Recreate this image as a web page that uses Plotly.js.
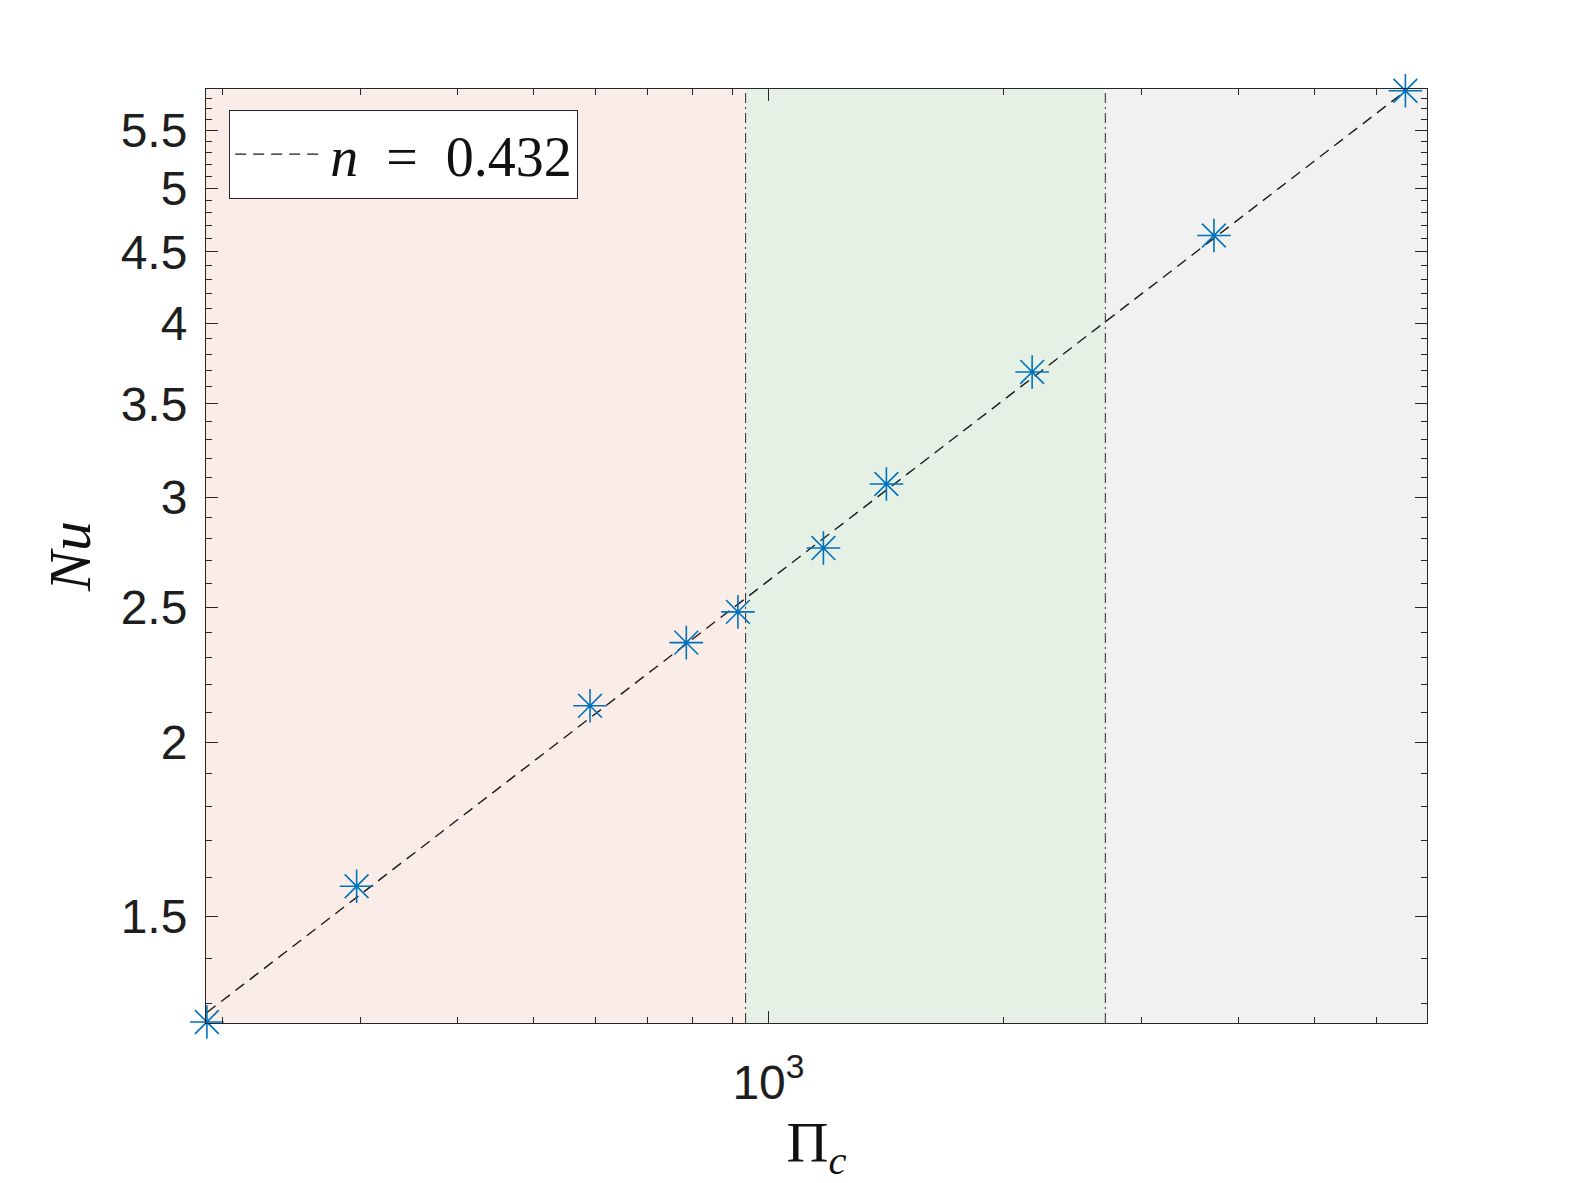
<!DOCTYPE html>
<html>
<head>
<meta charset="utf-8">
<script src="https://cdn.plot.ly/plotly-3.0.1.min.js"></script>
<style>
  html, body { margin: 0; padding: 0; background: #ffffff; }
  #chart { width: 1578px; height: 1183px; }
</style>
</head>
<body>
<div id="chart"></div>
<script>
// Nu vs Pi_c, log-log, with three shaded regimes

const piC = [191, 297, 591, 785, 914, 1176, 1416, 2176, 3719, 6540];
const nu = [1.260, 1.577, 2.125, 2.359, 2.482, 2.758, 3.066, 3.690, 4.623, 5.873];

// fitted power law, end points
const fitX = [191, 6540];
const fitY = [1.28, 5.87];
const fitLabel = '<i>n</i>\u2002=\u20020.432';

// axis limits and regime edges (data units)
const xLimits = [190.5, 6970];
const yLimits = [1.258, 5.89];
const regimeEdges = [935, 2700];
const regimeColors = ['#faede8', '#e5f1e4', '#f1f1f1'];

const yMajor = [1.5, 2, 2.5, 3, 3.5, 4, 4.5, 5, 5.5];
const yMajorText = ['1.5', '2', '2.5', '3', '3.5', '4', '4.5', '5', '5.5'];
const yMinor = [1.3, 1.4, 1.6, 1.7, 1.8, 1.9, 2.1, 2.2, 2.3, 2.4, 2.6, 2.7, 2.8, 2.9,
                3.1, 3.2, 3.3, 3.4, 3.6, 3.7, 3.8, 3.9, 4.1, 4.2, 4.3, 4.4, 4.6, 4.7,
                4.8, 4.9, 5.1, 5.2, 5.3, 5.4, 5.6, 5.7, 5.8];
const xMajor = [1000];
const xMajorText = ['10<sup>3</sup>'];
const xMinor = [200, 300, 400, 500, 600, 700, 800, 900, 2000, 3000, 4000, 5000, 6000];

const axisColor = '#262626';
const tickFont = { family: 'Liberation Sans, Arial, sans-serif', size: 48, color: '#1e1e1e' };
const mathFont = 'Liberation Serif, Times New Roman, serif';

const fitTrace = {
    x: fitX,
    y: fitY,
    type: 'scatter',
    mode: 'lines',
    name: fitLabel,
    line: { color: '#1a1a1a', width: 1.4, dash: '11px,7px' },
    showlegend: true
};

const pointTrace = {
    x: piC,
    y: nu,
    type: 'scatter',
    mode: 'markers',
    name: 'data',
    marker: {
        symbol: 'asterisk-open',
        size: 28,
        color: '#0072bd',
        line: { color: '#0072bd', width: 1.6 }
    },
    cliponaxis: false,
    showlegend: false
};

// shaded regimes + dash-dot separators
const bounds = [xLimits[0]].concat(regimeEdges).concat([xLimits[1]]);
const shapes = [];
for (let i = 0; i < regimeColors.length; i++) {
    shapes.push({
        type: 'rect', xref: 'x', yref: 'paper',
        x0: bounds[i], x1: bounds[i + 1], y0: 0, y1: 1,
        fillcolor: regimeColors[i], line: { width: 0 }, layer: 'below'
    });
}
regimeEdges.forEach(e => {
    shapes.push({
        type: 'line', xref: 'x', yref: 'paper',
        x0: e, x1: e, y0: 0, y1: 1,
        line: { color: '#2a2a2a', width: 1, dash: '10px,4px,2px,4px' },
        layer: 'below'
    });
});

const commonAxis = {
    type: 'log',
    showgrid: false,
    zeroline: false,
    showline: true,
    linecolor: axisColor,
    linewidth: 1,
    mirror: 'ticks',
    ticks: 'inside',
    ticklen: 12,
    tickwidth: 1,
    tickcolor: axisColor,
    tickfont: tickFont,
    tickmode: 'array'
};

const layout = {
    width: 1578,
    height: 1183,
    margin: { l: 206, r: 151, t: 89, b: 160 },
    paper_bgcolor: '#ffffff',
    plot_bgcolor: '#ffffff',
    showlegend: true,
    legend: {
        x: 0.0188,
        y: 0.9775,
        xanchor: 'left',
        yanchor: 'top',
        bgcolor: '#ffffff',
        bordercolor: axisColor,
        borderwidth: 1.2,
        itemwidth: 90,
        font: { family: mathFont, size: 56, color: '#111111' }
    },
    xaxis: Object.assign({}, commonAxis, {
        range: [Math.log10(xLimits[0]), Math.log10(xLimits[1])],
        tickvals: xMajor,
        ticktext: xMajorText,
        ticklabelstandoff: 17,
        minor: { tickmode: 'array', tickvals: xMinor, ticks: 'inside', ticklen: 6, tickwidth: 1, tickcolor: axisColor, showgrid: false },
        title: {
            text: 'Π<sub><i>c</i></sub>',
            font: { family: mathFont, size: 58, color: '#111111' },
            standoff: 14
        }
    }),
    yaxis: Object.assign({}, commonAxis, {
        range: [Math.log10(yLimits[0]), Math.log10(yLimits[1])],
        tickvals: yMajor,
        ticktext: yMajorText,
        ticklabelstandoff: 8,
        minor: { tickmode: 'array', tickvals: yMinor, ticks: 'inside', ticklen: 6, tickwidth: 1, tickcolor: axisColor, showgrid: false },
        title: {
            text: '<i>Nu</i>',
            font: { family: mathFont, size: 60, color: '#111111' },
            standoff: 10
        }
    }),
    shapes: shapes
};

Plotly.newPlot('chart', [fitTrace, pointTrace], layout, { displayModeBar: false, staticPlot: true });
</script>
</body>
</html>
